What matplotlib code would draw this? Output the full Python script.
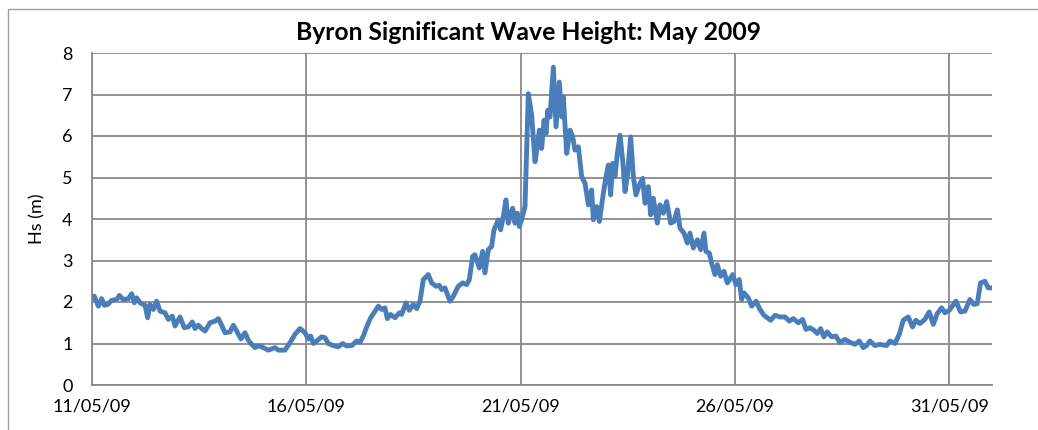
import pandas as pd
import matplotlib
matplotlib.use("Agg")
import matplotlib.pyplot as plt
import matplotlib.dates as mdates
from matplotlib.patches import Rectangle

# days since 11/05/2009 00:00 and significant wave height (m)
day_offset = [
    0.00, 0.054, 0.148, 0.226, 0.288, 0.366, 0.459, 0.576, 0.638, 0.731, 0.848, 0.926, 0.988, 1.042,
    1.12, 1.237, 1.299, 1.353, 1.431, 1.509, 1.587, 1.703, 1.781, 1.874, 1.937, 2.053, 2.154, 2.248,
    2.341, 2.403, 2.481, 2.559, 2.637, 2.753, 2.870, 2.948, 3.025, 3.103, 3.220, 3.298, 3.375, 3.476,
    3.570, 3.648, 3.725, 3.803, 3.881, 3.997, 4.114, 4.270, 4.347, 4.503, 4.620, 4.736, 4.853,
    4.970, 5.047, 5.102, 5.164, 5.242, 5.359, 5.436, 5.514, 5.631, 5.747, 5.849, 5.942, 6.059, 6.175,
    6.253, 6.331, 6.409, 6.502, 6.603, 6.681, 6.758, 6.836, 6.891, 6.968, 7.070, 7.171, 7.225, 7.326,
    7.404, 7.497, 7.575, 7.653, 7.731, 7.847, 7.925, 8.026, 8.104, 8.158, 8.236, 8.353,
    8.431, 8.547, 8.649, 8.742, 8.804, 8.882, 8.936, 9.037, 9.115, 9.169, 9.247, 9.325, 9.380, 9.481,
    9.535, 9.597, 9.659, 9.714, 9.815, 9.869, 9.924, 9.970, 10.025, 10.103, 10.142, 10.181, 10.259,
    10.337, 10.391, 10.438, 10.492, 10.547, 10.594, 10.633, 10.687, 10.765, 10.827, 10.905, 10.959,
    10.998, 11.076, 11.154, 11.216, 11.270, 11.348, 11.426, 11.504, 11.582, 11.659, 11.698, 11.776, 11.839,
    11.931, 11.994, 12.048, 12.102, 12.149, 12.203, 12.258, 12.320, 12.382, 12.437, 12.491, 12.569,
    12.631, 12.693, 12.771, 12.849, 12.903, 12.981, 13.036, 13.098, 13.191, 13.253, 13.331, 13.409,
    13.502, 13.580, 13.657, 13.720, 13.813, 13.891, 13.953, 14.031, 14.124, 14.202, 14.280, 14.326,
    14.404, 14.458, 14.536, 14.590, 14.668, 14.746, 14.824, 14.948, 15.025, 15.103,
    15.158, 15.213, 15.314, 15.392, 15.493, 15.586, 15.679, 15.835, 15.936, 16.053, 16.169, 16.270,
    16.363, 16.480, 16.581, 16.659, 16.752, 16.845, 16.923, 17.001, 17.078, 17.156, 17.257, 17.358,
    17.451, 17.568, 17.684, 17.801, 17.902, 17.996, 18.073, 18.151, 18.268, 18.385, 18.540, 18.618,
    18.735, 18.836, 18.929, 19.046, 19.147, 19.225, 19.318, 19.434, 19.536, 19.629, 19.722, 19.823,
    19.901, 20.002, 20.158, 20.267, 20.368, 20.484, 20.577, 20.655, 20.733, 20.834, 20.912, 20.967,
]
hs = [
    2.08, 2.14, 1.90, 2.08, 1.92, 1.94, 2.04, 2.06, 2.16, 2.06, 2.08, 2.20, 1.98, 2.10,
    1.98, 1.92, 1.62, 1.94, 1.82, 2.02, 1.78, 1.74, 1.58, 1.66, 1.42, 1.64, 1.38, 1.40,
    1.52, 1.36, 1.44, 1.36, 1.30, 1.50, 1.54, 1.60, 1.44, 1.26, 1.28, 1.44, 1.30, 1.11,
    1.26, 1.08, 0.98, 0.90, 0.95, 0.90, 0.84, 0.90, 0.84, 0.84, 1.02, 1.22, 1.36,
    1.26, 1.11, 1.18, 1.00, 1.06, 1.16, 1.14, 1.00, 0.95, 0.92, 1.00, 0.94, 0.95, 1.06,
    1.03, 1.18, 1.40, 1.62, 1.78, 1.90, 1.82, 1.86, 1.60, 1.70, 1.62, 1.74, 1.70, 1.98,
    1.80, 1.94, 1.84, 2.02, 2.54, 2.66, 2.46, 2.38, 2.40, 2.30, 2.34, 2.02,
    2.14, 2.38, 2.46, 2.42, 2.54, 3.10, 3.14, 2.82, 3.22, 2.70, 3.26, 3.34, 3.74, 3.98,
    3.74, 4.06, 4.46, 3.90, 4.26, 3.90, 4.14, 3.82, 3.98, 4.30, 5.66, 7.02, 6.50,
    5.38, 5.74, 6.14, 5.70, 6.38, 6.06, 6.62, 6.46, 7.66, 6.22, 7.30, 6.46,
    6.94, 5.58, 6.14, 5.98, 5.66, 5.74, 5.02, 4.86, 4.34, 4.70, 3.98, 4.30, 3.94,
    4.62, 5.02, 5.30, 4.58, 5.34, 5.02, 5.58, 6.02, 5.42, 4.66, 5.02, 5.98,
    5.02, 4.58, 4.82, 4.98, 4.38, 4.78, 4.10, 4.50, 3.90, 4.34, 4.14, 4.42,
    3.90, 3.94, 4.22, 3.78, 3.66, 3.42, 3.66, 3.30, 3.50, 3.26, 3.66, 3.22,
    3.18, 2.94, 2.66, 2.90, 2.62, 2.74, 2.46, 2.66, 2.42, 2.54,
    2.06, 2.22, 2.10, 1.90, 2.02, 1.82, 1.68, 1.56, 1.68, 1.64, 1.64, 1.54,
    1.60, 1.50, 1.58, 1.34, 1.38, 1.32, 1.24, 1.36, 1.16, 1.28, 1.16, 1.18,
    1.02, 1.10, 1.03, 0.98, 1.06, 0.90, 0.95, 1.06, 0.95, 0.98, 0.95, 1.06,
    1.00, 1.22, 1.56, 1.64, 1.40, 1.56, 1.48, 1.58, 1.76, 1.46, 1.72, 1.86,
    1.74, 1.80, 2.02, 1.76, 1.78, 2.06, 1.94, 1.96, 2.46, 2.50, 2.34, 2.34,
]

start = pd.Timestamp("2009-05-11")
end = pd.Timestamp("2009-06-01")
tick_dates = pd.date_range(start, "2009-05-31", freq="5D")
title = "Byron Significant Wave Height: May 2009"

times = start + pd.to_timedelta(day_offset, unit="D")

plt.rcParams['font.family'] = ['Lato', 'DejaVu Sans']
grid_col = "#898989"

fig = plt.figure(figsize=(10.38, 4.30), dpi=100)
ax = fig.add_axes([92 / 1038, 45 / 430, 900 / 1038, 332 / 430])

ax.plot(times, hs, color="#4A7EBB", linewidth=3.5, solid_joinstyle="round")

ax.set_xlim(start, end)
ax.set_ylim(0, 8)
ax.set_yticks(range(0, 9))
ax.set_xticks(tick_dates)
ax.xaxis.set_major_formatter(mdates.DateFormatter("%d/%m/%y"))
ax.grid(True, color=grid_col, linewidth=1.3)
ax.set_axisbelow(True)
ax.tick_params(length=0, labelsize=13, colors="black")
ax.tick_params(axis="y", pad=14)
ax.tick_params(axis="x", pad=10)
for side in ["top", "right"]:
    ax.spines[side].set_visible(False)
for side in ["left", "bottom"]:
    ax.spines[side].set_color(grid_col)
    ax.spines[side].set_linewidth(1.3)

ax.set_ylabel("Hs (m)", fontsize=13, labelpad=12)
ax.set_title(title, fontsize=17.8, fontweight="bold", pad=9, x=0.485)

# chart area border (Excel style)
border = Rectangle((8 / 1038, -0.05), 1.1, (430 - 9) / 430 + 0.05, transform=fig.transFigure,
                   fill=False, edgecolor="#a0a0a0", linewidth=1.0, clip_on=False)
fig.patches.append(border)

fig.savefig("out.png", dpi=100)
